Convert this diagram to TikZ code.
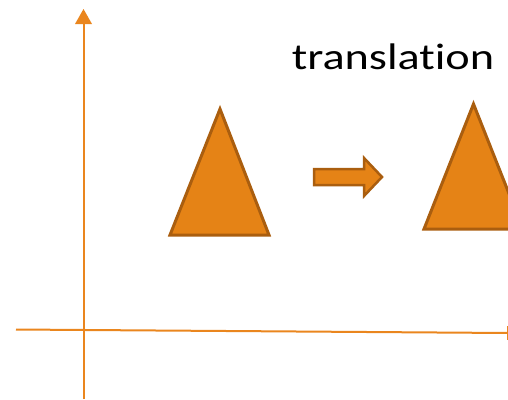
\documentclass[tikz,border=0pt]{standalone}
\usepackage{fontspec}
\setmainfont{Carlito}[Ligatures=NoCommon]
\definecolor{tfill}{RGB}{229,131,22}
\definecolor{tline}{RGB}{170,94,15}
\definecolor{axis}{RGB}{234,134,30}
\tikzset{
  tri/.style={fill=tfill,draw=tline,line width=3pt,line join=miter},
  axisline/.style={draw=axis,line width=2pt},
}
\begin{document}
\begin{tikzpicture}[x=1pt,y=-1pt]
\useasboundingbox (0,0) rectangle (508,399);
% axes
\coordinate (yb) at (83.5,399);
\coordinate (yt) at (83.5,24);
\draw[axisline] (yb) -- (yt);
\fill[axis] (75,24) -- (83.5,9) -- (92,24) -- cycle;
\coordinate (xl) at (16,329.5);
\coordinate (xr) at (508,333);
\draw[axisline] (xl) -- (xr);
\draw[axis,line width=1pt] (507.5,326) -- (507.5,340);
% triangles
\draw[tri] (170,235) -- (220,109) -- (269,235) -- cycle;
\draw[tri] (424,229) -- (473.5,104) -- (523,229) -- cycle;
% arrow
\draw[tri,line width=2.5pt] (314,169) -- (364,169) -- (364,158) -- (382,177) -- (364,196) -- (364,185) -- (314,185) -- cycle;
% text
\node[anchor=base,inner sep=0pt,font=\fontsize{37}{44}\selectfont,xscale=1.25] (title) at (393,69) {translation};
\end{tikzpicture}
\end{document}
